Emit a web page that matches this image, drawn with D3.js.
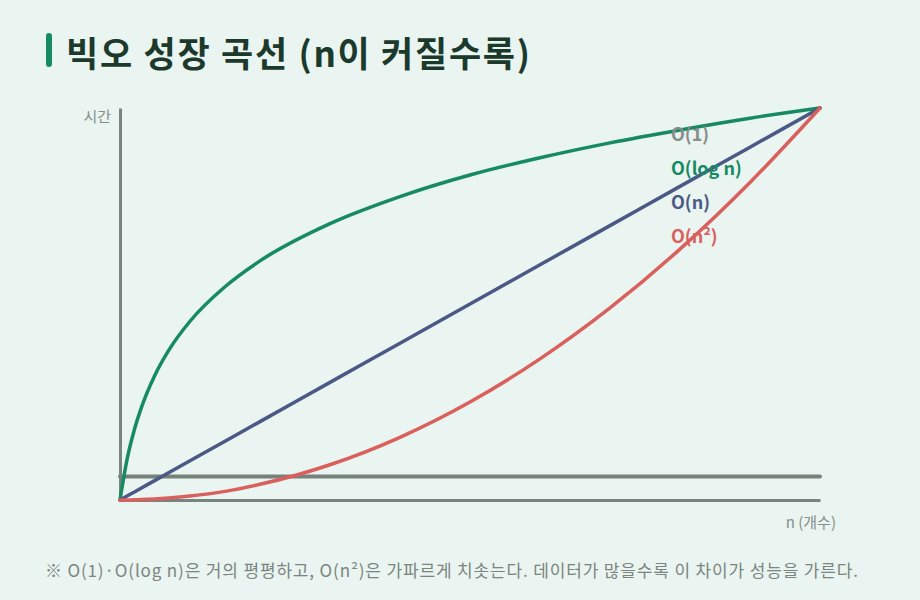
<!DOCTYPE html>
<html>
<head>
<meta charset="utf-8">
<script src="https://cdn.jsdelivr.net/npm/d3@7"></script>
<style>
  body { margin: 0; background: #eaf4f0; }
  svg { display: block; font-family: "Noto Sans CJK KR", "Noto Sans", sans-serif; }
</style>
</head>
<body>
<svg id="chart" width="920" height="600"></svg>
<script>
// n values along the x axis (0..100)
const nVals = [0, 1, 2, 3, 5, 7, 10, 15, 20, 30, 40, 50, 60, 70, 80, 90, 100];
// time values (0..100)
const constVals = [6, 6, 6, 6, 6, 6, 6, 6, 6, 6, 6, 6, 6, 6, 6, 6, 6];
const logVals = [0, 10.3, 17.6, 23.3, 31.9, 38.3, 45.6, 54.4, 61, 70.5, 77.4, 82.9, 87.3, 91.1, 94.4, 97.4, 100];
const linVals = [0, 1, 2, 3, 5, 7, 10, 15, 20, 30, 40, 50, 60, 70, 80, 90, 100];
const sqVals = [0, 0, 0.05, 0.1, 0.25, 0.5, 1, 2.2, 4, 9, 16, 25, 36, 49, 64, 81, 100];

const seriesNames = ['O(1)', 'O(log n)', 'O(n)', 'O(n²)'];
const seriesColors = ['#878d8a', '#168a63', '#4a5985', '#d9605d'];

const svg = d3.select('#chart');

// title with accent bar
svg.append('rect')
  .attr('x', 46).attr('y', 33).attr('width', 6).attr('height', 34).attr('rx', 3)
  .attr('fill', '#178a62');
svg.append('text')
  .attr('x', 66).attr('y', 67)
  .attr('font-size', 35).attr('font-weight', 700).attr('fill', '#1b3a2c')
  .attr('textLength', 464).attr('lengthAdjust', 'spacing')
  .text('빅오 성장 곡선 (n이 커질수록)');

const x = d3.scaleLinear().domain([0, 100]).range([120, 820]);
const y = d3.scaleLinear().domain([0, 100]).range([500, 108]);

// axes, no ticks
const gy = svg.append('g').attr('transform', 'translate(120,0)')
  .call(d3.axisLeft(y).ticks(0).tickSizeOuter(0));
const gx = svg.append('g').attr('transform', 'translate(0,500)')
  .call(d3.axisBottom(x).ticks(0).tickSizeOuter(0));
[gx, gy].forEach(g => g.select('.domain').attr('stroke', '#77857e').attr('stroke-width', 3));

svg.append('text')
  .attr('x', 111).attr('y', 122).attr('text-anchor', 'end')
  .attr('font-size', 15).attr('fill', '#858f8a')
  .text('시간');
svg.append('text')
  .attr('x', 836).attr('y', 528).attr('text-anchor', 'end')
  .attr('font-size', 15).attr('fill', '#858f8a')
  .text('n (개수)');

const allVals = [constVals, logVals, linVals, sqVals];
const line = d3.line()
  .x(d => x(d[0]))
  .y(d => y(d[1]))
  .curve(d3.curveMonotoneX);

allVals.forEach((vals, i) => {
  svg.append('path')
    .datum(nVals.map((n, j) => [n, vals[j]]))
    .attr('d', line)
    .attr('fill', 'none')
    .attr('stroke', i == 0 ? '#748279' : seriesColors[i])
    .attr('stroke-width', i == 0 ? 4 : 3.5)
    .attr('stroke-linejoin', 'round')
    .attr('stroke-linecap', 'round');
});

// legend labels
seriesNames.forEach((name, i) => {
  svg.append('text')
    .attr('x', 671).attr('y', 141 + i * 34)
    .attr('font-size', 18).attr('font-weight', 700)
    .attr('fill', seriesColors[i])
    .text(name);
});

// footnote
svg.append('text')
  .attr('x', 45).attr('y', 577)
  .attr('font-size', 17).attr('fill', '#7a8580')
  .attr('textLength', 813).attr('lengthAdjust', 'spacing')
  .text('※ O(1)·O(log n)은 거의 평평하고, O(n²)은 가파르게 치솟는다. 데이터가 많을수록 이 차이가 성능을 가른다.');
</script>
</body>
</html>
